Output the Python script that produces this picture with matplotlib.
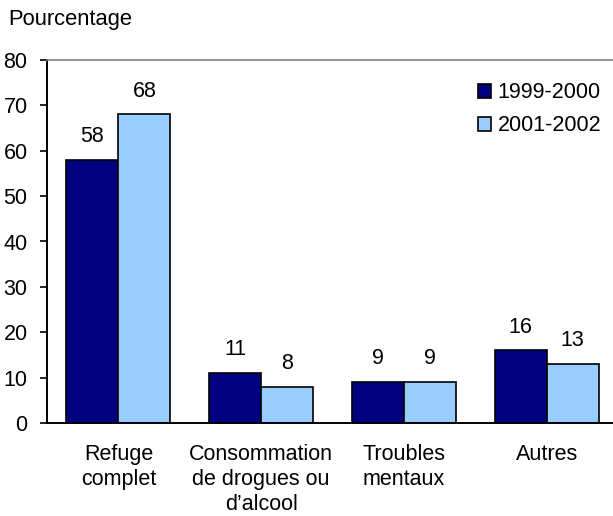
import matplotlib
matplotlib.use("Agg")
import matplotlib.pyplot as plt
import numpy as np

plt.rcParams['font.family'] = ['Liberation Sans', 'DejaVu Sans']

categories = ["Refuge\ncomplet", "Consommation\nde drogues ou\nd\u2019alcool", "Troubles\nmentaux", "Autres"]
series_names = ["1999-2000", "2001-2002"]
v1999 = [58, 11, 9, 16]
v2001 = [68, 8, 9, 13]
colors = ["#000080", "#99CCFF"]

fig = plt.figure(figsize=(6.13, 5.16), dpi=100)
ax = fig.add_axes([47/613, 1-423/516, 571/613, 363/516])

x = np.arange(len(categories))
w = 0.365
b1 = ax.bar(x - w/2, v1999, w, color=colors[0], edgecolor="black", linewidth=1.2, label=series_names[0])
b2 = ax.bar(x + w/2, v2001, w, color=colors[1], edgecolor="black", linewidth=1.2, label=series_names[1])

for bars, vals in ((b1, v1999), (b2, v2001)):
    for r, v in zip(bars, vals):
        ax.text(r.get_x() + r.get_width()/2, v + 2.8, str(v), ha="center", va="bottom", fontsize=15.5)

ax.set_xlim(-0.5, 3.5)
ax.set_ylim(0, 80)
ax.set_yticks(range(0, 81, 10))
ax.set_xticks(x)
ax.set_xticklabels(categories, fontsize=15.5, linespacing=1.26)
ax.tick_params(axis='x', length=0, pad=15)
ax.tick_params(axis='y', length=5, width=1.2, labelsize=15.5, pad=9, direction='out')
for s in ax.spines.values():
    s.set_linewidth(1.4)
    s.set_color("black")
ax.spines['top'].set_color("#808080")
ax.spines['top'].set_linewidth(1.2)

fig.text(8/613, 1-20/516, "Pourcentage", fontsize=15.8, ha="left", va="center")

leg = ax.legend(loc="upper right", bbox_to_anchor=(0.997, 0.98), frameon=False, fontsize=15.5,
                handlelength=0.62, handleheight=0.62, handletextpad=0.3, labelspacing=0.55,
                borderaxespad=0.3)

fig.savefig("out.png", dpi=100)
